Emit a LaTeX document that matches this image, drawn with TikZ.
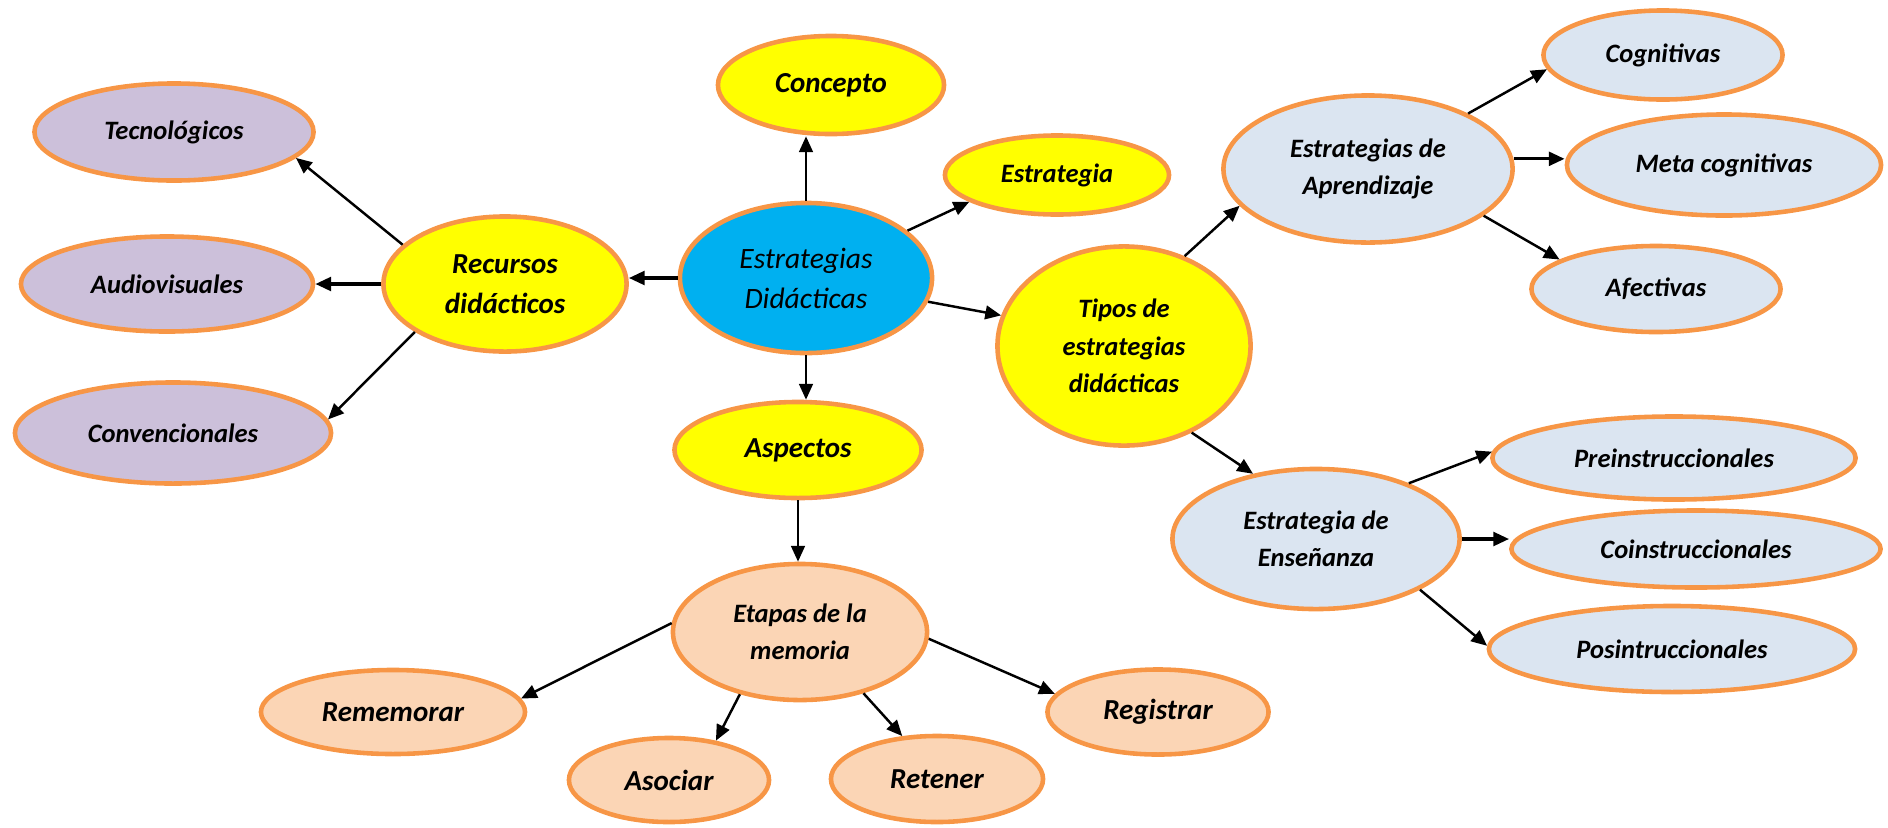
\documentclass[tikz,border=0pt]{standalone}
\usepackage{fontspec}
\setmainfont{Carlito}
\usepackage{color}
\usetikzlibrary{
    arrows.meta,
    positioning,
    shapes.geometric,
}
\definecolor{rim}{HTML}{F79646}
\definecolor{sun}{HTML}{FFFF00}
\definecolor{sky}{HTML}{00B0F0}
\definecolor{lilac}{HTML}{CCC0DA}
\definecolor{mist}{HTML}{DBE5F1}
\definecolor{peach}{HTML}{FBD5B5}

\begin{document}
\begin{tikzpicture}[
    x=0.01cm, y=-0.01cm,
    bubble/.style={ellipse, draw=rim, line width=1.3pt, align=center,
                inner sep=1pt, text=black},
    big/.style={bubble, font=\fontsize{8.25}{11.4}\selectfont\bfseries\itshape},
    small/.style={bubble, font=\fontsize{7.55}{10.6}\selectfont\bfseries\itshape},
    link/.style={-{Triangle[length=4.5pt,width=3.9pt]}, line width=0.7pt},
    heavy/.style={link, line width=0.95pt},
]
\useasboundingbox (0,0) rectangle (1888,827);

\node[bubble, fill=sky, minimum width=2.52cm, minimum height=1.50cm,
      font=\fontsize{8.4}{11.4}\selectfont\itshape] at (806,278) (ed) {Estrategias\\Didácticas};

\node[big, fill=sun, minimum width=2.26cm, minimum height=0.98cm] at (831,85) (concepto) {Concepto};
\node[small, fill=sun, minimum width=2.24cm, minimum height=0.79cm] at (1057,175) (estrategia) {Estrategia};
\node[big, fill=sun, minimum width=2.43cm, minimum height=1.35cm] at (505,284) (recursos) {Recursos\\didácticos};
\node[big, fill=sun, minimum width=2.47cm, minimum height=0.96cm] at (798,450) (aspectos) {Aspectos};
\node[small, fill=sun, minimum width=2.53cm, minimum height=1.99cm] at (1124,346) (tipos) {Tipos de\\estrategias\\didácticas};

\node[small, fill=lilac, minimum width=2.79cm, minimum height=0.97cm] at (174,132) (tecno) {Tecnológicos};
\node[small, fill=lilac, minimum width=2.92cm, minimum height=0.95cm] at (167,284) (audio) {Audiovisuales};
\node[small, fill=lilac, minimum width=3.16cm, minimum height=1.01cm] at (173,433) (conven) {Convencionales};

\node[small, fill=peach, minimum width=2.54cm, minimum height=1.36cm] at (800,632) (etapas) {Etapas de la\\memoria};
\node[big, fill=peach, minimum width=2.64cm, minimum height=0.84cm] at (393,712) (rememorar) {Rememorar};
\node[big, fill=peach, minimum width=2.00cm, minimum height=0.84cm] at (669,780) (asociar) {Asociar};
\node[big, fill=peach, minimum width=2.12cm, minimum height=0.86cm] at (937,779) (retener) {Retener};
\node[big, fill=peach, minimum width=2.21cm, minimum height=0.85cm] at (1158,712) (registrar) {Registrar};

\node[small, fill=mist, minimum width=2.89cm, minimum height=1.47cm] at (1368,169) (aprend) {Estrategias de\\Aprendizaje};
\node[small, fill=mist, minimum width=2.39cm, minimum height=0.89cm] at (1663,55) (cogn) {Cognitivas};
\node[small, fill=mist, minimum width=3.14cm, minimum height=1.01cm] at (1724,165) (meta) {Meta cognitivas};
\node[small, fill=mist, minimum width=2.49cm, minimum height=0.86cm] at (1656,289) (afect) {Afectivas};

\node[small, fill=mist, minimum width=2.87cm, minimum height=1.40cm] at (1316,539) (ensen) {Estrategia de\\Enseñanza};
\node[small, fill=mist, minimum width=3.63cm, minimum height=0.83cm] at (1674,458) (pre) {Preinstruccionales};
\node[small, fill=mist, minimum width=3.69cm, minimum height=0.77cm] at (1696,549) (co) {Coinstruccionales};
\node[small, fill=mist, minimum width=3.66cm, minimum height=0.86cm] at (1672,649) (pos) {Posintruccionales};

\draw[link] (ed.north) -- (ed.north |- concepto.south);
\draw[link] (ed.25.6) -- (estrategia.197.6);
\draw[heavy] (ed.west) -- (ed.west -| recursos.east);
\draw[link] (ed.south) -- (ed.south |- aspectos.north);
\draw[link] (ed.349.4) -- (tipos.166.2);

\draw[link] (recursos.159.8) -- (tecno.348);
\draw[heavy] (recursos.west) -- (recursos.west -| audio.east);
\draw[link] (recursos.208.6) -- (conven.5.2);

\draw[link] (aspectos.south) -- (aspectos.south |- etapas.north);
\draw[link] (etapas.176.5) -- (rememorar.6.5);
\draw[link] (etapas.226) -- (asociar.40.8);
\draw[link] (etapas.316) -- (retener.129);
\draw[link] (etapas.357.8) -- (registrar.170.4);

\draw[link] (tipos.56.6) -- (aprend.196.2);
\draw[link] (tipos.308.3) -- (ensen.134.1);

\draw[link] (aprend.29.4) -- (cogn.187.9);
\draw[heavy] (aprend.4) -- (aprend.4 -| meta.west);
\draw[link] (aprend.338) -- (afect.163.4);

\draw[link] (ensen.31) -- (pre.178.5);
\draw[heavy] (ensen.east) -- (ensen.east -| co.west);
\draw[link] (ensen.334.5) -- (pos.179.4);

\end{tikzpicture}
\end{document}
